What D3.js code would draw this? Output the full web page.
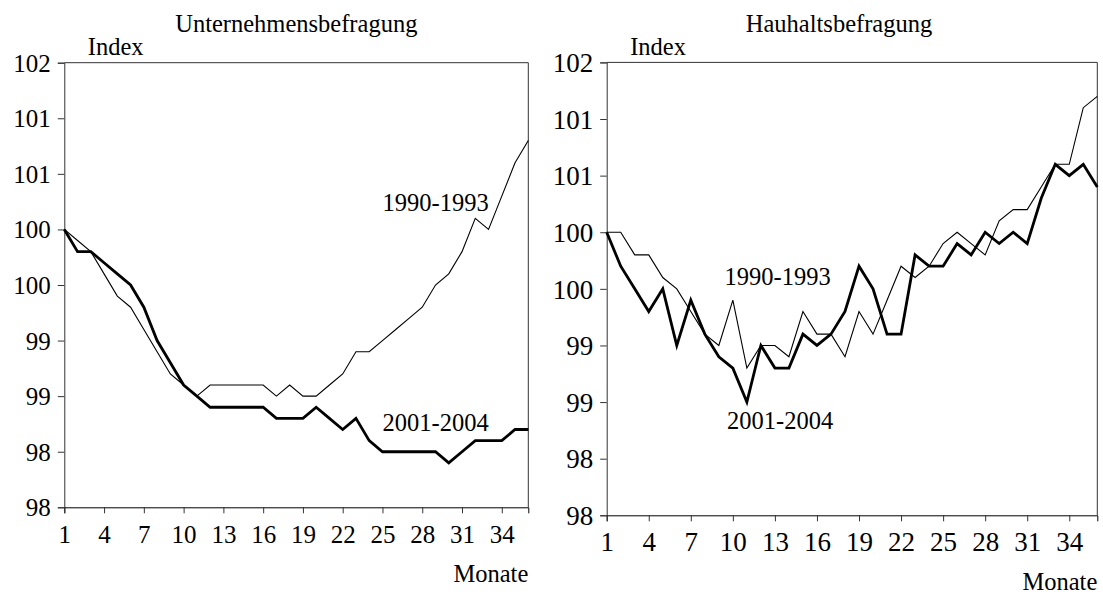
<!DOCTYPE html>
<html>
<head>
<meta charset="utf-8">
<script src="https://cdn.jsdelivr.net/npm/d3@7"></script>
<style>
  html, body { margin: 0; padding: 0; background: #fff; }
  svg { display: block; }
  text { font-family: "Liberation Serif", "Times New Roman", serif; fill: #000; }
</style>
</head>
<body>
<svg id="chart" width="1103" height="594"></svg>
<script>
// ---- Data ----
const months = d3.range(1, 37);
const xTickValues = [1, 4, 7, 10, 13, 16, 19, 22, 25, 28, 31, 34];
const yTickValues = [98, 98.5, 99, 99.5, 100, 100.5, 101, 101.5, 102];
const yTickLabels = ["98", "98", "99", "99", "100", "100", "101", "101", "102"];

// Unternehmensbefragung
const unt1990 = [100.5, 100.4, 100.3, 100.1, 99.9, 99.8, 99.6, 99.4, 99.2, 99.1, 99.0, 99.1,
                 99.1, 99.1, 99.1, 99.1, 99.0, 99.1, 99.0, 99.0, 99.1, 99.2, 99.4, 99.4,
                 99.5, 99.6, 99.7, 99.8, 100.0, 100.1, 100.3, 100.6, 100.5, 100.8, 101.1, 101.3];
const unt2001 = [100.5, 100.3, 100.3, 100.2, 100.1, 100.0, 99.8, 99.5, 99.3, 99.1, 99.0, 98.9,
                 98.9, 98.9, 98.9, 98.9, 98.8, 98.8, 98.8, 98.9, 98.8, 98.7, 98.8, 98.6,
                 98.5, 98.5, 98.5, 98.5, 98.5, 98.4, 98.5, 98.6, 98.6, 98.6, 98.7, 98.7];

// Hauhaltsbefragung
const hh1990 = [100.5, 100.5, 100.3, 100.3, 100.1, 100.0, 99.8, 99.6, 99.5, 99.9, 99.3, 99.5,
                99.5, 99.4, 99.8, 99.6, 99.6, 99.4, 99.8, 99.6, 99.9, 100.2, 100.1, 100.2,
                100.4, 100.5, 100.4, 100.3, 100.6, 100.7, 100.7, 100.9, 101.1, 101.1, 101.6, 101.7];
const hh2001 = [100.5, 100.2, 100.0, 99.8, 100.0, 99.5, 99.9, 99.6, 99.4, 99.3, 99.0, 99.5,
                99.3, 99.3, 99.6, 99.5, 99.6, 99.8, 100.2, 100.0, 99.6, 99.6, 100.3, 100.2,
                100.2, 100.4, 100.3, 100.5, 100.4, 100.5, 100.4, 100.8, 101.1, 101.0, 101.1, 100.9];

const svg = d3.select("#chart");

function panel(cfg) {
  const g = svg.append("g");
  const x = d3.scaleLinear().domain([1, 36]).range([cfg.left, cfg.right]);
  const y = d3.scaleLinear().domain([98, 102]).range([cfg.bottom, cfg.top]);

  // frame (top and right)
  g.append("path")
    .attr("d", `M${cfg.left},${cfg.top}H${cfg.right}V${cfg.bottom}`)
    .attr("fill", "none").attr("stroke", "#333").attr("stroke-width", 1);

  // y axis
  const ya = g.append("g").attr("transform", `translate(${cfg.left},0)`)
    .call(d3.axisLeft(y).tickValues(yTickValues)
      .tickFormat((d, i) => yTickLabels[i]).tickSize(6.5).tickPadding(7));
  ya.select(".domain").attr("stroke", "#333");
  ya.selectAll("line").attr("stroke", "#333");
  ya.selectAll("text").style("font-size", cfg.tickFont + "px")
    .style("font-family", '"Liberation Serif", serif').attr("dy", "0.34em");

  // x axis
  const xa = g.append("g").attr("transform", `translate(0,${cfg.bottom})`)
    .call(d3.axisBottom(x).tickValues(xTickValues).tickFormat(d3.format("d"))
      .tickSize(6).tickPadding(cfg.xPad));
  xa.select(".domain").attr("stroke", "#000");
  xa.selectAll("line").attr("stroke", "#333");
  xa.selectAll("text").style("font-size", cfg.tickFont + "px")
    .style("font-family", '"Liberation Serif", serif');

  const line = d3.line().x((d, i) => x(months[i])).y(d => y(d));

  g.append("path").datum(cfg.thin).attr("d", line)
    .attr("fill", "none").attr("stroke", "#000").attr("stroke-width", 1.1)
    .attr("stroke-linejoin", "miter");
  g.append("path").datum(cfg.thick).attr("d", line)
    .attr("fill", "none").attr("stroke", "#000").attr("stroke-width", 2.8)
    .attr("stroke-linejoin", "miter");

  // texts
  g.append("text").attr("x", cfg.titleX).attr("y", 32).attr("text-anchor", "middle")
    .style("font-size", "24.5px").text(cfg.title);
  g.append("text").attr("x", cfg.left + 23.5).attr("y", 55)
    .style("font-size", "24.5px").text("Index");
  g.append("text").attr("x", cfg.right).attr("y", cfg.monateY).attr("text-anchor", "end")
    .style("font-size", "24.5px").text("Monate");
  g.append("text").attr("x", cfg.lab1990[0]).attr("y", cfg.lab1990[1])
    .style("font-size", "24.5px").text("1990-1993");
  g.append("text").attr("x", cfg.lab2001[0]).attr("y", cfg.lab2001[1])
    .style("font-size", "24.5px").text("2001-2004");
}

panel({
  left: 64.3, right: 528.3, top: 62.7, bottom: 507.3,
  tickFont: 25, xPad: 11.5,
  title: "Unternehmensbefragung", titleX: 296.3,
  monateY: 581.7,
  thin: unt1990, thick: unt2001,
  lab1990: [382.5, 211], lab2001: [382.5, 430.7]
});

panel({
  left: 606.7, right: 1097.3, top: 62.4, bottom: 515.3,
  tickFont: 27, xPad: 11,
  title: "Hauhaltsbefragung", titleX: 839,
  monateY: 590,
  thin: hh1990, thick: hh2001,
  lab1990: [724.5, 285], lab2001: [727, 429.3]
});
</script>
</body>
</html>
